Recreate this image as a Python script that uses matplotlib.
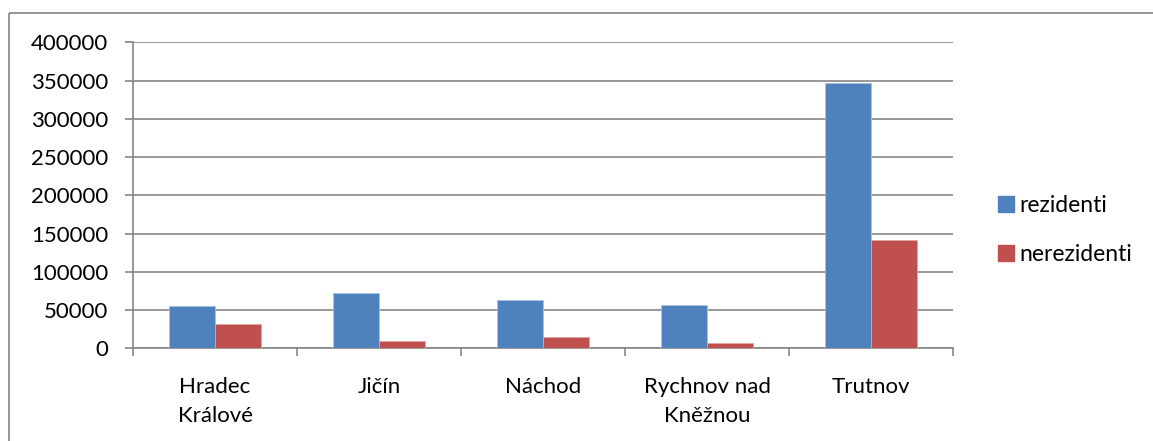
import matplotlib
matplotlib.use("Agg")
import matplotlib.pyplot as plt
import matplotlib.patches as patches
from matplotlib.lines import Line2D
import numpy as np

plt.rcParams['font.family'] = ['Lato', 'DejaVu Sans']

districts = ['Hradec\nKrálové', 'Jičín', 'Náchod', 'Rychnov nad\nKněžnou', 'Trutnov']
rezidenti = [55300, 71900, 62700, 56200, 346400]
nerezidenti = [31800, 9150, 14800, 6900, 141200]
series_names = ['rezidenti', 'nerezidenti']
y_ticks = [0, 50000, 100000, 150000, 200000, 250000, 300000, 350000, 400000]

blue = '#4F81BD'
red = '#C0504D'
grid_gray = '#868686'

W, H = 1153, 441
fig = plt.figure(figsize=(W / 100, H / 100), dpi=100)

# outer chart frame (only top/left visible, rest runs off the image)
frame = patches.Rectangle((9 / W, 1 - 13 / H), 1.5, -1.5, transform=fig.transFigure,
                          fill=False, edgecolor='#8c8c8c', linewidth=1.3)
fig.patches.append(frame)

ax = fig.add_axes([133 / W, (H - 348.3) / H, 820 / W, 306 / H])

x = np.arange(len(districts))
w = 0.28
ax.bar(x - w / 2, rezidenti, w, color=blue, edgecolor='#a9c1e0', linewidth=0.6, zorder=3)
ax.bar(x + w / 2, nerezidenti, w, color=red, edgecolor='#e3a3a1', linewidth=0.6, zorder=3)

ax.set_xlim(-0.5, len(districts) - 0.5)
ax.set_ylim(0, 400000)
ax.set_yticks(y_ticks)
ax.set_yticklabels([str(v) for v in y_ticks])
ax.yaxis.grid(True, color=grid_gray, linewidth=1.2, zorder=0)

ax.set_xticks(x)
ax.set_xticklabels(districts, linespacing=1.55)
ax.set_xticks(np.arange(len(districts) + 1) - 0.5, minor=True)
ax.tick_params(axis='x', which='major', length=0, pad=21, labelsize=16)
ax.tick_params(axis='x', which='minor', length=6, width=1.2, color=grid_gray, direction='out')
ax.tick_params(axis='y', length=6, width=1.2, color=grid_gray, pad=12, labelsize=16)

for s in ['top', 'right']:
    ax.spines[s].set_visible(False)
for s in ['left', 'bottom']:
    ax.spines[s].set_color(grid_gray)
    ax.spines[s].set_linewidth(1.2)

handles = [Line2D([], [], marker='s', linestyle='', markersize=11.5, color=blue),
           Line2D([], [], marker='s', linestyle='', markersize=11.5, color=red)]
fig.legend(handles, series_names, loc='center left', bbox_to_anchor=(985 / W, 1 - 230 / H),
           frameon=False, fontsize=16.5, handletextpad=0.1, labelspacing=1.22,
           handlelength=1.0, borderaxespad=0)

fig.savefig('out.png', dpi=100)
